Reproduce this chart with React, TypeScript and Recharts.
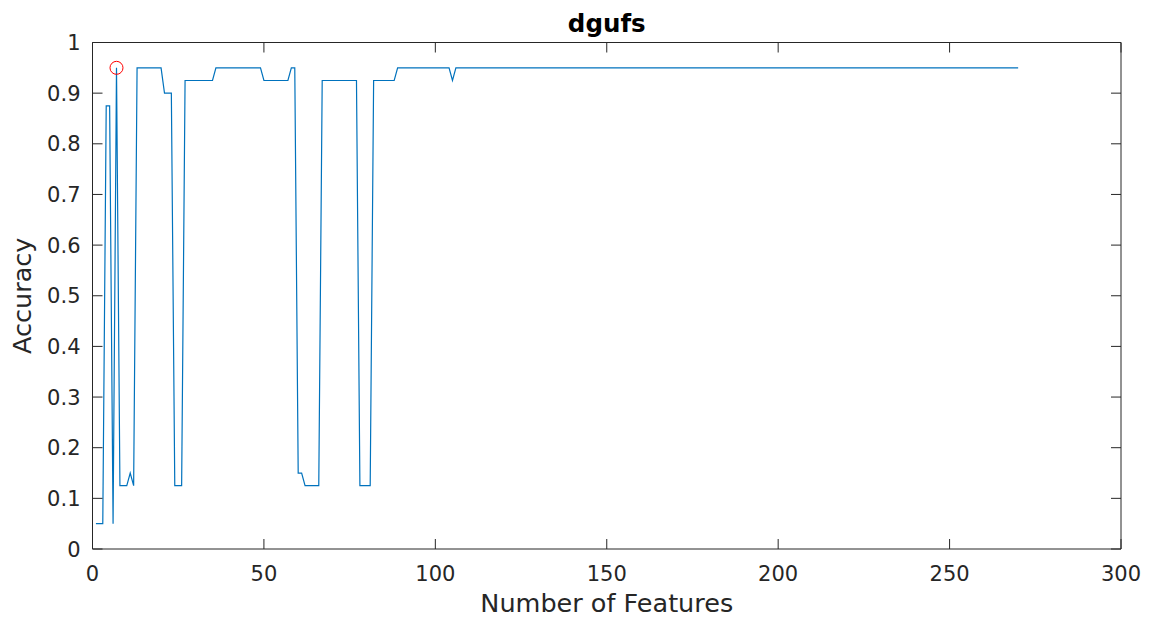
import { LineChart, Line, XAxis, YAxis, ReferenceArea, ReferenceDot } from 'recharts';

// change points of the accuracy curve (linear between them)
const featureCounts = [1, 3, 4, 5, 6, 7, 8, 10, 11, 12, 13, 20, 21, 23, 24, 26, 27, 35, 36, 49, 50, 57, 58, 59, 60, 61, 62, 66, 67, 77, 78, 81, 82, 88, 89, 104, 105, 106, 270];
const accuracy = [0.05, 0.05, 0.875, 0.875, 0.05, 0.95, 0.125, 0.125, 0.15, 0.125, 0.95, 0.95, 0.9, 0.9, 0.125, 0.125, 0.925, 0.925, 0.95, 0.95, 0.925, 0.925, 0.95, 0.95, 0.15, 0.15, 0.125, 0.125, 0.925, 0.925, 0.125, 0.125, 0.925, 0.925, 0.95, 0.95, 0.925, 0.95, 0.95];

const xTicks = [0, 50, 100, 150, 200, 250, 300];
const yTicks = [0, 0.1, 0.2, 0.3, 0.4, 0.5, 0.6, 0.7, 0.8, 0.9, 1];

const bestCount = 7;
const bestAccuracy = 0.95;

const W = 1149;
const H = 619;
const LEFT = 92.5;
const RIGHT = 1121;
const TOP = 42.5;
const BOTTOM = 549;
const INK = '#262626';
const FONT = '"DejaVu Sans", sans-serif';

const data = featureCounts.map((n, i) => ({ n, acc: accuracy[i] }));

// MATLAB style: ticks point inward on all four sides
function XTick(props: any) {
  const { x, payload } = props;
  return (
    <g>
      <line x1={x} x2={x} y1={BOTTOM} y2={BOTTOM - 10} stroke={INK} />
      <line x1={x} x2={x} y1={TOP} y2={TOP + 10} stroke={INK} />
      <text x={x} y={BOTTOM + 32} textAnchor="middle" fontSize={21} fill={INK} fontFamily={FONT}>
        {payload.value}
      </text>
    </g>
  );
}

function YTick(props: any) {
  const { y, payload } = props;
  return (
    <g>
      <line x1={LEFT} x2={LEFT + 10} y1={y} y2={y} stroke={INK} />
      <line x1={RIGHT} x2={RIGHT - 10} y1={y} y2={y} stroke={INK} />
      <text x={LEFT - 12} y={y} dy="0.36em" textAnchor="end" fontSize={21} fill={INK} fontFamily={FONT}>
        {payload.value}
      </text>
    </g>
  );
}

export default function App() {
  return (
    <div style={{ position: 'absolute', left: 0, top: 0, width: W, height: H, background: '#fff' }}>
      <LineChart width={W} height={H} data={data} margin={{ top: TOP, right: W - RIGHT, bottom: 30, left: LEFT - 60 }}>
        <XAxis
          dataKey="n"
          type="number"
          domain={[0, 300]}
          ticks={xTicks}
          interval={0}
          height={40}
          tickSize={0}
          tickMargin={0}
          axisLine={false}
          tickLine={false}
          tick={<XTick />}
        />
        <YAxis
          type="number"
          domain={[0, 1]}
          ticks={yTicks}
          interval={0}
          width={60}
          tickSize={0}
          tickMargin={0}
          axisLine={false}
          tickLine={false}
          tick={<YTick />}
        />
        <ReferenceArea x1={0} x2={300} y1={0} y2={1} fill="none" stroke={INK} strokeWidth={1} />
        <Line
          type="linear"
          dataKey="acc"
          stroke="#0072BD"
          strokeWidth={1.2}
          dot={false}
          isAnimationActive={false}
        />
        <ReferenceDot x={bestCount} y={bestAccuracy} r={6.5} fill="none" stroke="#FF0000" strokeWidth={1} />
        <text x={(LEFT + RIGHT) / 2} y={32} textAnchor="middle" fontSize={24.5} fontWeight="bold" fill="#000" fontFamily={FONT}>
          dgufs
        </text>
        <text x={(LEFT + RIGHT) / 2} y={612} textAnchor="middle" fontSize={25.5} fill={INK} fontFamily={FONT}>
          Number of Features
        </text>
        <text
          x={22}
          y={(TOP + BOTTOM) / 2}
          textAnchor="middle"
          dy="0.36em"
          fontSize={25.5}
          fill={INK}
          fontFamily={FONT}
          transform={`rotate(-90 22 ${(TOP + BOTTOM) / 2})`}
        >
          Accuracy
        </text>
      </LineChart>
    </div>
  );
}
